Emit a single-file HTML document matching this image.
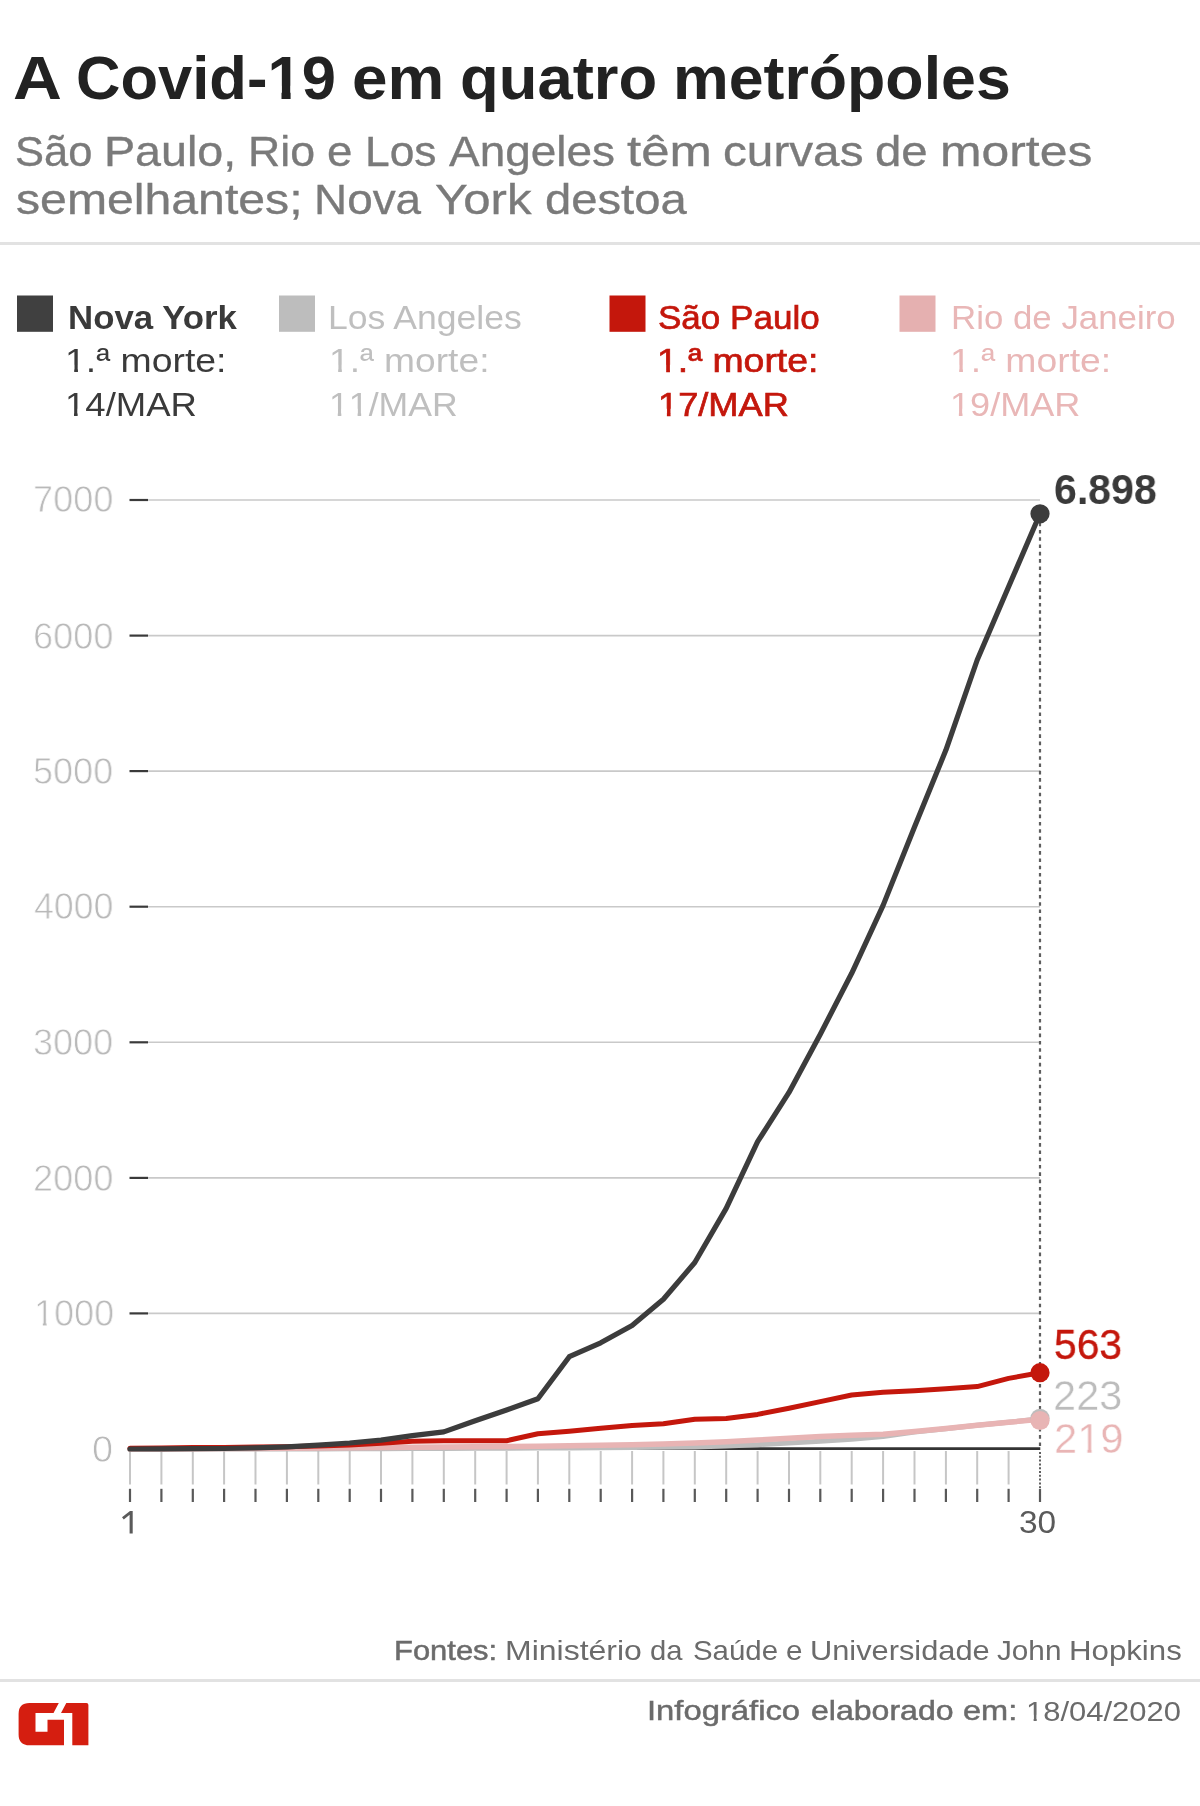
<!DOCTYPE html>
<html lang="pt-br">
<head>
<meta charset="utf-8">
<title>A Covid-19 em quatro metrópoles</title>
<style>
html,body{margin:0;padding:0;background:#fff;}
body{width:1200px;height:1806px;position:relative;overflow:hidden;font-family:"Liberation Sans",sans-serif;}
#chart{position:absolute;left:0;top:0;display:block;}
.t{position:absolute;white-space:nowrap;line-height:1;transform-origin:0 0;font-weight:400;will-change:transform;}
.o1,.o1b{display:inline-block;line-height:1;}
.o1{clip-path:polygon(0 0,100% 0,100% 62%,62.2% 62%,62.2% 100%,44.2% 100%,44.2% 62%,0 62%);}
.o1b{clip-path:polygon(0 0,100% 0,100% 62%,67.6% 62%,67.6% 100%,41% 100%,41% 62%,0 62%);}
</style>
</head>
<body>
<svg id="chart" width="1200" height="1806" viewBox="0 0 1200 1806">
<rect x="0" y="242" width="1200" height="3" fill="#e2e2e2"/>
<rect x="0" y="1679" width="1200" height="3" fill="#e2e2e2"/>
<rect x="17" y="295.5" width="36" height="36.3" fill="#404040"/>
<rect x="279" y="295.5" width="36" height="36.3" fill="#bdbdbd"/>
<rect x="609.5" y="295.5" width="36" height="36.3" fill="#c4170c"/>
<rect x="899.5" y="295.5" width="36" height="36.3" fill="#e5b0b0"/>
<line x1="148" y1="1313.4" x2="1040" y2="1313.4" stroke="#c9c9c9" stroke-width="1.6"/>
<line x1="129.5" y1="1313.4" x2="148" y2="1313.4" stroke="#3a3a3a" stroke-width="2.2"/>
<line x1="148" y1="1177.9" x2="1040" y2="1177.9" stroke="#c9c9c9" stroke-width="1.6"/>
<line x1="129.5" y1="1177.9" x2="148" y2="1177.9" stroke="#3a3a3a" stroke-width="2.2"/>
<line x1="148" y1="1042.3" x2="1040" y2="1042.3" stroke="#c9c9c9" stroke-width="1.6"/>
<line x1="129.5" y1="1042.3" x2="148" y2="1042.3" stroke="#3a3a3a" stroke-width="2.2"/>
<line x1="148" y1="906.7" x2="1040" y2="906.7" stroke="#c9c9c9" stroke-width="1.6"/>
<line x1="129.5" y1="906.7" x2="148" y2="906.7" stroke="#3a3a3a" stroke-width="2.2"/>
<line x1="148" y1="771.1" x2="1040" y2="771.1" stroke="#c9c9c9" stroke-width="1.6"/>
<line x1="129.5" y1="771.1" x2="148" y2="771.1" stroke="#3a3a3a" stroke-width="2.2"/>
<line x1="148" y1="635.6" x2="1040" y2="635.6" stroke="#c9c9c9" stroke-width="1.6"/>
<line x1="129.5" y1="635.6" x2="148" y2="635.6" stroke="#3a3a3a" stroke-width="2.2"/>
<line x1="148" y1="500.0" x2="1040" y2="500.0" stroke="#c9c9c9" stroke-width="1.6"/>
<line x1="129.5" y1="500.0" x2="148" y2="500.0" stroke="#3a3a3a" stroke-width="2.2"/>
<line x1="130.0" y1="1451" x2="130.0" y2="1484.5" stroke="#c6c6c6" stroke-width="2"/>
<line x1="130.0" y1="1488.8" x2="130.0" y2="1502" stroke="#595959" stroke-width="2.2"/>
<line x1="161.4" y1="1451" x2="161.4" y2="1484.5" stroke="#c6c6c6" stroke-width="2"/>
<line x1="161.4" y1="1488.8" x2="161.4" y2="1502" stroke="#595959" stroke-width="2.2"/>
<line x1="192.8" y1="1451" x2="192.8" y2="1484.5" stroke="#c6c6c6" stroke-width="2"/>
<line x1="192.8" y1="1488.8" x2="192.8" y2="1502" stroke="#595959" stroke-width="2.2"/>
<line x1="224.1" y1="1451" x2="224.1" y2="1484.5" stroke="#c6c6c6" stroke-width="2"/>
<line x1="224.1" y1="1488.8" x2="224.1" y2="1502" stroke="#595959" stroke-width="2.2"/>
<line x1="255.5" y1="1451" x2="255.5" y2="1484.5" stroke="#c6c6c6" stroke-width="2"/>
<line x1="255.5" y1="1488.8" x2="255.5" y2="1502" stroke="#595959" stroke-width="2.2"/>
<line x1="286.9" y1="1451" x2="286.9" y2="1484.5" stroke="#c6c6c6" stroke-width="2"/>
<line x1="286.9" y1="1488.8" x2="286.9" y2="1502" stroke="#595959" stroke-width="2.2"/>
<line x1="318.3" y1="1451" x2="318.3" y2="1484.5" stroke="#c6c6c6" stroke-width="2"/>
<line x1="318.3" y1="1488.8" x2="318.3" y2="1502" stroke="#595959" stroke-width="2.2"/>
<line x1="349.7" y1="1451" x2="349.7" y2="1484.5" stroke="#c6c6c6" stroke-width="2"/>
<line x1="349.7" y1="1488.8" x2="349.7" y2="1502" stroke="#595959" stroke-width="2.2"/>
<line x1="381.0" y1="1451" x2="381.0" y2="1484.5" stroke="#c6c6c6" stroke-width="2"/>
<line x1="381.0" y1="1488.8" x2="381.0" y2="1502" stroke="#595959" stroke-width="2.2"/>
<line x1="412.4" y1="1451" x2="412.4" y2="1484.5" stroke="#c6c6c6" stroke-width="2"/>
<line x1="412.4" y1="1488.8" x2="412.4" y2="1502" stroke="#595959" stroke-width="2.2"/>
<line x1="443.8" y1="1451" x2="443.8" y2="1484.5" stroke="#c6c6c6" stroke-width="2"/>
<line x1="443.8" y1="1488.8" x2="443.8" y2="1502" stroke="#595959" stroke-width="2.2"/>
<line x1="475.2" y1="1451" x2="475.2" y2="1484.5" stroke="#c6c6c6" stroke-width="2"/>
<line x1="475.2" y1="1488.8" x2="475.2" y2="1502" stroke="#595959" stroke-width="2.2"/>
<line x1="506.6" y1="1451" x2="506.6" y2="1484.5" stroke="#c6c6c6" stroke-width="2"/>
<line x1="506.6" y1="1488.8" x2="506.6" y2="1502" stroke="#595959" stroke-width="2.2"/>
<line x1="537.9" y1="1451" x2="537.9" y2="1484.5" stroke="#c6c6c6" stroke-width="2"/>
<line x1="537.9" y1="1488.8" x2="537.9" y2="1502" stroke="#595959" stroke-width="2.2"/>
<line x1="569.3" y1="1451" x2="569.3" y2="1484.5" stroke="#c6c6c6" stroke-width="2"/>
<line x1="569.3" y1="1488.8" x2="569.3" y2="1502" stroke="#595959" stroke-width="2.2"/>
<line x1="600.7" y1="1451" x2="600.7" y2="1484.5" stroke="#c6c6c6" stroke-width="2"/>
<line x1="600.7" y1="1488.8" x2="600.7" y2="1502" stroke="#595959" stroke-width="2.2"/>
<line x1="632.1" y1="1451" x2="632.1" y2="1484.5" stroke="#c6c6c6" stroke-width="2"/>
<line x1="632.1" y1="1488.8" x2="632.1" y2="1502" stroke="#595959" stroke-width="2.2"/>
<line x1="663.4" y1="1451" x2="663.4" y2="1484.5" stroke="#c6c6c6" stroke-width="2"/>
<line x1="663.4" y1="1488.8" x2="663.4" y2="1502" stroke="#595959" stroke-width="2.2"/>
<line x1="694.8" y1="1451" x2="694.8" y2="1484.5" stroke="#c6c6c6" stroke-width="2"/>
<line x1="694.8" y1="1488.8" x2="694.8" y2="1502" stroke="#595959" stroke-width="2.2"/>
<line x1="726.2" y1="1451" x2="726.2" y2="1484.5" stroke="#c6c6c6" stroke-width="2"/>
<line x1="726.2" y1="1488.8" x2="726.2" y2="1502" stroke="#595959" stroke-width="2.2"/>
<line x1="757.6" y1="1451" x2="757.6" y2="1484.5" stroke="#c6c6c6" stroke-width="2"/>
<line x1="757.6" y1="1488.8" x2="757.6" y2="1502" stroke="#595959" stroke-width="2.2"/>
<line x1="789.0" y1="1451" x2="789.0" y2="1484.5" stroke="#c6c6c6" stroke-width="2"/>
<line x1="789.0" y1="1488.8" x2="789.0" y2="1502" stroke="#595959" stroke-width="2.2"/>
<line x1="820.3" y1="1451" x2="820.3" y2="1484.5" stroke="#c6c6c6" stroke-width="2"/>
<line x1="820.3" y1="1488.8" x2="820.3" y2="1502" stroke="#595959" stroke-width="2.2"/>
<line x1="851.7" y1="1451" x2="851.7" y2="1484.5" stroke="#c6c6c6" stroke-width="2"/>
<line x1="851.7" y1="1488.8" x2="851.7" y2="1502" stroke="#595959" stroke-width="2.2"/>
<line x1="883.1" y1="1451" x2="883.1" y2="1484.5" stroke="#c6c6c6" stroke-width="2"/>
<line x1="883.1" y1="1488.8" x2="883.1" y2="1502" stroke="#595959" stroke-width="2.2"/>
<line x1="914.5" y1="1451" x2="914.5" y2="1484.5" stroke="#c6c6c6" stroke-width="2"/>
<line x1="914.5" y1="1488.8" x2="914.5" y2="1502" stroke="#595959" stroke-width="2.2"/>
<line x1="945.9" y1="1451" x2="945.9" y2="1484.5" stroke="#c6c6c6" stroke-width="2"/>
<line x1="945.9" y1="1488.8" x2="945.9" y2="1502" stroke="#595959" stroke-width="2.2"/>
<line x1="977.2" y1="1451" x2="977.2" y2="1484.5" stroke="#c6c6c6" stroke-width="2"/>
<line x1="977.2" y1="1488.8" x2="977.2" y2="1502" stroke="#595959" stroke-width="2.2"/>
<line x1="1008.6" y1="1451" x2="1008.6" y2="1484.5" stroke="#c6c6c6" stroke-width="2"/>
<line x1="1008.6" y1="1488.8" x2="1008.6" y2="1502" stroke="#595959" stroke-width="2.2"/>
<line x1="1040.0" y1="1488.8" x2="1040.0" y2="1502" stroke="#595959" stroke-width="2.2"/>
<line x1="130" y1="1448.6" x2="1040.3" y2="1448.6" stroke="#333" stroke-width="2.8"/>
<line x1="1040" y1="515.3" x2="1040" y2="1447" stroke="#5e5e5e" stroke-width="2.2" stroke-dasharray="3.6 3.7"/>
<line x1="1040" y1="1452" x2="1040" y2="1488" stroke="#5e5e5e" stroke-width="2" stroke-dasharray="2 1.8"/>
<path d="M130.0,1448.9 L161.4,1448.9 L192.8,1448.9 L224.1,1448.9 L255.5,1448.9 L286.9,1448.9 L318.3,1448.9 L349.7,1448.7 L381.0,1448.7 L412.4,1448.6 L443.8,1448.5 L475.2,1448.3 L506.6,1448.2 L537.9,1448.1 L569.3,1447.9 L600.7,1447.8 L632.1,1447.5 L663.4,1447.2 L694.8,1447.0 L726.2,1446.0 L757.6,1444.7 L789.0,1443.0 L820.3,1441.3 L851.7,1439.2 L883.1,1436.5 L914.5,1432.1 L945.9,1428.7 L977.2,1425.3 L1008.6,1422.2 L1040.0,1418.8" fill="none" stroke="#bdbdbd" stroke-width="5" stroke-linejoin="round" stroke-linecap="round"/>
<path d="M130.0,1449.0 L161.4,1448.9 L192.8,1448.7 L224.1,1448.6 L255.5,1448.5 L286.9,1448.3 L318.3,1448.1 L349.7,1447.8 L381.0,1447.5 L412.4,1447.2 L443.8,1447.0 L475.2,1446.7 L506.6,1446.4 L537.9,1446.2 L569.3,1445.7 L600.7,1445.2 L632.1,1444.7 L663.4,1444.0 L694.8,1443.0 L726.2,1441.7 L757.6,1440.1 L789.0,1438.2 L820.3,1436.4 L851.7,1435.3 L883.1,1434.2 L914.5,1431.6 L945.9,1428.4 L977.2,1425.3 L1008.6,1422.3 L1040.0,1419.3" fill="none" stroke="#e8b4b4" stroke-width="5.5" stroke-linejoin="round" stroke-linecap="round"/>
<path d="M130.0,1448.2 L161.4,1447.9 L192.8,1447.6 L224.1,1447.4 L255.5,1447.1 L286.9,1446.7 L318.3,1446.0 L349.7,1444.9 L381.0,1443.3 L412.4,1441.3 L443.8,1440.7 L475.2,1440.7 L506.6,1440.7 L537.9,1433.8 L569.3,1431.2 L600.7,1428.3 L632.1,1425.5 L663.4,1423.8 L694.8,1419.3 L726.2,1418.6 L757.6,1414.4 L789.0,1408.3 L820.3,1401.6 L851.7,1395.0 L883.1,1392.3 L914.5,1390.7 L945.9,1388.7 L977.2,1386.6 L1008.6,1378.4 L1040.0,1372.7" fill="none" stroke="#c4170c" stroke-width="5" stroke-linejoin="round" stroke-linecap="round"/>
<path d="M130.0,1449.0 L161.4,1448.9 L192.8,1448.7 L224.1,1448.5 L255.5,1447.9 L286.9,1446.8 L318.3,1445.2 L349.7,1443.0 L381.0,1440.1 L412.4,1435.6 L443.8,1431.9 L475.2,1420.7 L506.6,1410.0 L537.9,1398.8 L569.3,1356.7 L600.7,1342.8 L632.1,1325.5 L663.4,1299.3 L694.8,1262.5 L726.2,1208.4 L757.6,1141.7 L789.0,1092.4 L820.3,1034.2 L851.7,973.3 L883.1,905.4 L914.5,827.0 L945.9,750.1 L977.2,660.0 L1008.6,586.8 L1040.0,513.8" fill="none" stroke="#3c3c3c" stroke-width="5.2" stroke-linejoin="round" stroke-linecap="round"/>
<circle cx="1040" cy="1418.3" r="9.6" fill="#bdbdbd"/>
<circle cx="1040" cy="1420.5" r="9.6" fill="#e8b4b4"/>
<circle cx="1040" cy="1372.7" r="9.6" fill="#c4170c"/>
<circle cx="1040" cy="513.8" r="9.6" fill="#3c3c3c"/>
<path d="M132.7,1511 V1533.5 H129.6 V1514.8 L123.8,1519.5 L122,1517.3 L130,1511 Z" fill="#5a5a5a"/>
<g fill="#d51e10"><path d="M29.5,1703 H58.8 L53.5,1713 H35.5 V1731.8 H47.5 V1719.8 H64 V1745.3 H29.5 Q18.6,1745.3 18.6,1734.5 V1713.8 Q18.6,1703 29.5,1703 Z"/><path d="M66.3,1703 H86.4 Q88.4,1703 88.4,1705 V1745.3 H72.3 V1713 H61 Z"/></g>
</svg>
<div class="t" id="title_0" style="top:47.81px;font-size:61px;color:#222;font-weight:700;left:13.40px;transform:scaleX(1.1098);">A</div>
<div class="t" id="title_1" style="top:47.81px;font-size:61px;color:#222;font-weight:700;left:76.47px;transform:scaleX(1.0089);">Covid-<span class="o1b">1</span>9</div>
<div class="t" id="title_2" style="top:47.81px;font-size:61px;color:#222;font-weight:700;left:351.57px;transform:scaleX(1.0457);">em</div>
<div class="t" id="title_3" style="top:47.81px;font-size:61px;color:#222;font-weight:700;left:460.47px;transform:scaleX(1.0392);">quatro</div>
<div class="t" id="title_4" style="top:47.81px;font-size:61px;color:#222;font-weight:700;left:673.47px;transform:scaleX(1.0272);">metrópoles</div>
<div class="t" id="sub1_0" style="top:129.80px;font-size:43px;color:#7a7a7a;-webkit-text-stroke:0.35px #7a7a7a;left:14.95px;transform:scaleX(1.0103);">São</div>
<div class="t" id="sub1_1" style="top:129.80px;font-size:43px;color:#7a7a7a;-webkit-text-stroke:0.35px #7a7a7a;left:104.22px;transform:scaleX(1.0848);">Paulo,</div>
<div class="t" id="sub1_2" style="top:129.80px;font-size:43px;color:#7a7a7a;-webkit-text-stroke:0.35px #7a7a7a;left:247.75px;transform:scaleX(1.0377);">Rio</div>
<div class="t" id="sub1_3" style="top:129.80px;font-size:43px;color:#7a7a7a;-webkit-text-stroke:0.35px #7a7a7a;left:326.72px;transform:scaleX(1.0611);">e</div>
<div class="t" id="sub1_4" style="top:129.80px;font-size:43px;color:#7a7a7a;-webkit-text-stroke:0.35px #7a7a7a;left:364.82px;transform:scaleX(1.0309);">Los</div>
<div class="t" id="sub1_5" style="top:129.80px;font-size:43px;color:#7a7a7a;-webkit-text-stroke:0.35px #7a7a7a;left:448.97px;transform:scaleX(1.0682);">Angeles</div>
<div class="t" id="sub1_6" style="top:129.80px;font-size:43px;color:#7a7a7a;-webkit-text-stroke:0.35px #7a7a7a;left:626.60px;transform:scaleX(1.1825);">têm</div>
<div class="t" id="sub1_7" style="top:129.80px;font-size:43px;color:#7a7a7a;-webkit-text-stroke:0.35px #7a7a7a;left:722.72px;transform:scaleX(1.1093);">curvas</div>
<div class="t" id="sub1_8" style="top:129.80px;font-size:43px;color:#7a7a7a;-webkit-text-stroke:0.35px #7a7a7a;left:874.75px;transform:scaleX(1.1017);">de</div>
<div class="t" id="sub1_9" style="top:129.80px;font-size:43px;color:#7a7a7a;-webkit-text-stroke:0.35px #7a7a7a;left:940.32px;transform:scaleX(1.1591);">mortes</div>
<div class="t" id="sub2_0" style="top:177.80px;font-size:43px;color:#7a7a7a;-webkit-text-stroke:0.35px #7a7a7a;left:15.70px;transform:scaleX(1.1205);">semelhantes;</div>
<div class="t" id="sub2_1" style="top:177.80px;font-size:43px;color:#7a7a7a;-webkit-text-stroke:0.35px #7a7a7a;left:313.75px;transform:scaleX(1.0668);">Nova</div>
<div class="t" id="sub2_2" style="top:177.80px;font-size:43px;color:#7a7a7a;-webkit-text-stroke:0.35px #7a7a7a;left:434.75px;transform:scaleX(1.1429);">York</div>
<div class="t" id="sub2_3" style="top:177.80px;font-size:43px;color:#7a7a7a;-webkit-text-stroke:0.35px #7a7a7a;left:544.72px;transform:scaleX(1.0980);">destoa</div>
<div class="t" id="ny1" style="top:300.76px;font-size:33.5px;color:#3a3a3a;font-weight:700;left:68.06px;transform:scaleX(1.0390);">Nova York</div>
<div class="t" id="ny2" style="top:343.91px;font-size:33.5px;color:#3a3a3a;left:65.20px;transform:scaleX(1.1169);"><span class="o1">1</span>.ª morte:</div>
<div class="t" id="ny3" style="top:387.96px;font-size:33.5px;color:#3a3a3a;left:65.20px;transform:scaleX(1.0900);"><span class="o1">1</span>4/MAR</div>
<div class="t" id="la1" style="top:300.76px;font-size:33.5px;color:#bfbfbf;left:327.75px;transform:scaleX(1.0616);">Los Angeles</div>
<div class="t" id="la2" style="top:343.91px;font-size:33.5px;color:#bfbfbf;left:328.81px;transform:scaleX(1.1097);"><span class="o1">1</span>.ª morte:</div>
<div class="t" id="la3" style="top:387.96px;font-size:33.5px;color:#bfbfbf;left:328.50px;transform:scaleX(1.0637);"><span class="o1">1</span><span class="o1">1</span>/MAR</div>
<div class="t" id="sp1" style="top:300.76px;font-size:33.5px;color:#c4170c;-webkit-text-stroke:0.7px #c4170c;left:657.50px;transform:scaleX(1.0460);">São Paulo</div>
<div class="t" id="sp2" style="top:343.91px;font-size:33.5px;color:#c4170c;-webkit-text-stroke:0.7px #c4170c;left:657.25px;transform:scaleX(1.1165);"><span class="o1">1</span>.ª morte:</div>
<div class="t" id="sp3" style="top:387.96px;font-size:33.5px;color:#c4170c;-webkit-text-stroke:0.7px #c4170c;left:657.50px;transform:scaleX(1.0807);"><span class="o1">1</span>7/MAR</div>
<div class="t" id="rj1" style="top:300.76px;font-size:33.5px;color:#e9b7b7;left:951.25px;transform:scaleX(1.0401);">Rio de Janeiro</div>
<div class="t" id="rj2" style="top:343.91px;font-size:33.5px;color:#e9b7b7;left:950.25px;transform:scaleX(1.1151);"><span class="o1">1</span>.ª morte:</div>
<div class="t" id="rj3" style="top:387.96px;font-size:33.5px;color:#e9b7b7;left:950.25px;transform:scaleX(1.0770);"><span class="o1">1</span>9/MAR</div>
<div class="t" id="y0" style="top:1432.19px;font-size:36.8px;color:#b9b9b9;-webkit-text-stroke:0.8px #fff;left:92.15px;transform:scaleX(1.0302);">0</div>
<div class="t" id="y1" style="top:1296.29px;font-size:36.8px;color:#b9b9b9;-webkit-text-stroke:0.8px #fff;left:33.75px;transform:scaleX(0.9773);"><span class="o1">1</span>000</div>
<div class="t" id="y2" style="top:1160.78px;font-size:36.8px;color:#b9b9b9;-webkit-text-stroke:0.8px #fff;left:33.35px;transform:scaleX(0.9807);">2000</div>
<div class="t" id="y3" style="top:1024.68px;font-size:36.8px;color:#b9b9b9;-webkit-text-stroke:0.8px #fff;left:33.10px;transform:scaleX(0.9776);">3000</div>
<div class="t" id="y4" style="top:888.83px;font-size:36.8px;color:#b9b9b9;-webkit-text-stroke:0.8px #fff;left:34.35px;transform:scaleX(0.9683);">4000</div>
<div class="t" id="y5" style="top:753.73px;font-size:36.8px;color:#b9b9b9;-webkit-text-stroke:0.8px #fff;left:33.10px;transform:scaleX(0.9776);">5000</div>
<div class="t" id="y6" style="top:618.74px;font-size:36.8px;color:#b9b9b9;-webkit-text-stroke:0.8px #fff;left:33.35px;transform:scaleX(0.9807);">6000</div>
<div class="t" id="y7" style="top:482.38px;font-size:36.8px;color:#b9b9b9;-webkit-text-stroke:0.8px #fff;left:33.35px;transform:scaleX(0.9807);">7000</div>
<div class="t" id="x30" style="top:1506.80px;font-size:31.5px;color:#5a5a5a;left:1019.00px;transform:scaleX(1.0616);">30</div>
<div class="t" id="v_ny" style="top:467.91px;font-size:43px;color:#3a3a3a;font-weight:700;left:1054.11px;transform:scaleX(0.9547);">6.898</div>
<div class="t" id="v_sp" style="top:1323.76px;font-size:42.5px;color:#c4170c;-webkit-text-stroke:0.4px #c4170c;left:1054.00px;transform:scaleX(0.9592);">563</div>
<div class="t" id="v_la" style="top:1373.91px;font-size:43.4px;color:#bcbcbc;-webkit-text-stroke:0.4px #fff;left:1053.36px;transform:scaleX(0.9561);">223</div>
<div class="t" id="v_rj" style="top:1416.91px;font-size:43.4px;color:#e9b5b5;-webkit-text-stroke:0.4px #fff;left:1053.50px;transform:scaleX(0.9596);">2<span class="o1">1</span>9</div>
<div class="t" id="f1a" style="top:1636.31px;font-size:28.5px;color:#6b6b6b;-webkit-text-stroke:0.5px #6b6b6b;left:394.31px;transform:scaleX(1.0854);">Fontes:</div>
<div class="t" id="f1b_0" style="top:1636.31px;font-size:28.5px;color:#6b6b6b;left:504.72px;transform:scaleX(1.1224);">Ministério</div>
<div class="t" id="f1b_1" style="top:1636.31px;font-size:28.5px;color:#6b6b6b;left:650.25px;transform:scaleX(1.0247);">da</div>
<div class="t" id="f1b_2" style="top:1636.31px;font-size:28.5px;color:#6b6b6b;left:692.75px;transform:scaleX(1.0313);">Saúde</div>
<div class="t" id="f1b_3" style="top:1636.31px;font-size:28.5px;color:#6b6b6b;left:786.15px;transform:scaleX(1.0381);">e</div>
<div class="t" id="f1b_4" style="top:1636.31px;font-size:28.5px;color:#6b6b6b;left:810.22px;transform:scaleX(1.0799);">Universidade</div>
<div class="t" id="f1b_5" style="top:1636.31px;font-size:28.5px;color:#6b6b6b;left:996.57px;transform:scaleX(1.0420);">John</div>
<div class="t" id="f1b_6" style="top:1636.31px;font-size:28.5px;color:#6b6b6b;left:1068.82px;transform:scaleX(1.0952);">Hopkins</div>
<div class="t" id="f2a_0" style="top:1696.46px;font-size:28.5px;color:#6b6b6b;-webkit-text-stroke:0.5px #6b6b6b;left:647.25px;transform:scaleX(1.1500);">Infográfico</div>
<div class="t" id="f2a_1" style="top:1696.46px;font-size:28.5px;color:#6b6b6b;-webkit-text-stroke:0.5px #6b6b6b;left:811.00px;transform:scaleX(1.1243);">elaborado</div>
<div class="t" id="f2a_2" style="top:1696.46px;font-size:28.5px;color:#6b6b6b;-webkit-text-stroke:0.5px #6b6b6b;left:963.00px;transform:scaleX(1.1412);">em:</div>
<div class="t" id="f2b" style="top:1697.21px;font-size:28.5px;color:#6b6b6b;left:1025.50px;transform:scaleX(1.0862);"><span class="o1">1</span>8/04/2020</div>
</body>
</html>
